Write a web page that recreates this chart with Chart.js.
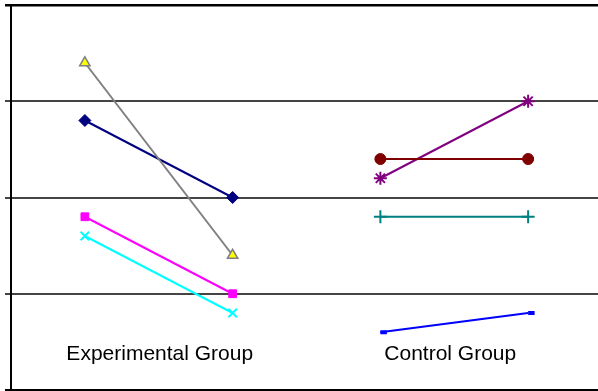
<!DOCTYPE html>
<html>
<head>
<meta charset="utf-8">
<script src="https://cdn.jsdelivr.net/npm/chart.js@4/dist/chart.umd.min.js"></script>
<style>
html,body{margin:0;padding:0;background:#fff;overflow:hidden;}
#wrap{width:598px;height:391px;overflow:hidden;}
</style>
</head>
<body>
<div id="wrap"><canvas id="c" width="602" height="391"></canvas></div>
<script>
// x positions: before/after for each group
const positions = ['Exp1', 'Exp2', 'Ctl1', 'Ctl2'];
const groupLabels = ['Experimental Group', 'Control Group'];
const yTicks = [0, 1, 2, 3, 4];

// Experimental group series (values at Exp1, Exp2)
const expTriangle = [3.4, 1.4, null, null];
const expDiamond  = [2.8, 2.0, null, null];
const expSquare   = [1.8, 1.0, null, null];
const expCross    = [1.6, 0.8, null, null];
// Control group series (values at Ctl1, Ctl2)
const ctlCircle   = [null, null, 2.4, 2.4];
const ctlStar     = [null, null, 2.2, 3.0];
const ctlPlus     = [null, null, 1.8, 1.8];
const ctlDash     = [null, null, 0.6, 0.8];

function ds(data, line, fill, style, radius, bw) {
  return {
    data: data, borderColor: line, backgroundColor: fill,
    pointBackgroundColor: fill, pointBorderColor: line,
    pointStyle: style, pointRadius: radius, pointHoverRadius: radius,
    pointBorderWidth: bw, borderWidth: 2, tension: 0, spanGaps: false
  };
}

const groupLabelPlugin = {
  id: 'groupLabels',
  afterDatasetsDraw(chart) {
    const ctx = chart.ctx;
    const x = chart.scales.x, y = chart.scales.y;
    ctx.save();
    ctx.font = '21px "Liberation Sans", Arial, sans-serif';
    ctx.fillStyle = '#000';
    ctx.textAlign = 'center';
    ctx.textBaseline = 'middle';
    const yy = y.getPixelForValue(0.37);
    const c0 = (x.getPixelForValue(0) + x.getPixelForValue(1)) / 2;
    const c1 = (x.getPixelForValue(2) + x.getPixelForValue(3)) / 2;
    ctx.fillText(groupLabels[0], c0 + 1, yy);
    ctx.fillText(groupLabels[1], c1 - 4, yy);
    ctx.restore();
  }
};

new Chart(document.getElementById('c'), {
  type: 'line',
  data: {
    labels: positions,
    datasets: [
      ds(expTriangle, '#808080', '#FFFF00', 'triangle', 6, 1.5),
      ds(expDiamond, '#000080', '#000080', 'rectRot', 6, 1),
      ds(expSquare, '#FF00FF', '#FF00FF', 'rect', 5.5, 1),
      ds(expCross, '#00FFFF', '#00FFFF', 'crossRot', 6, 2),
      ds(ctlCircle, '#800000', '#800000', 'circle', 5.5, 1),
      ds(ctlStar, '#800080', '#800080', 'star', 6.5, 2),
      ds(ctlPlus, '#008080', '#008080', 'cross', 6.5, 2),
      ds(ctlDash, '#0000FF', '#0000FF', 'dash', 6.5, 4)
    ]
  },
  options: {
    responsive: false,
    animation: false,
    layout: { autoPadding: false, padding: { left: 5, top: 5, bottom: 1, right: 0 } },
    plugins: { legend: { display: false }, tooltip: { enabled: false } },
    scales: {
      x: { display: false, offset: true },
      y: {
        min: 0, max: 4,
        afterBuildTicks(scale) { scale.ticks = yTicks.map(v => ({ value: v })); },
        ticks: { display: false },
        border: { display: true, color: '#000', width: 2 },
        grid: {
          tickLength: 6,
          color: (c) => (c.tick && (c.tick.value === 0 || c.tick.value === 4)) ? '#000' : '#444',
          lineWidth: (c) => (c.tick && (c.tick.value === 0 || c.tick.value === 4)) ? 2.5 : 2
        }
      }
    }
  },
  plugins: [groupLabelPlugin]
});
</script>
</body>
</html>
